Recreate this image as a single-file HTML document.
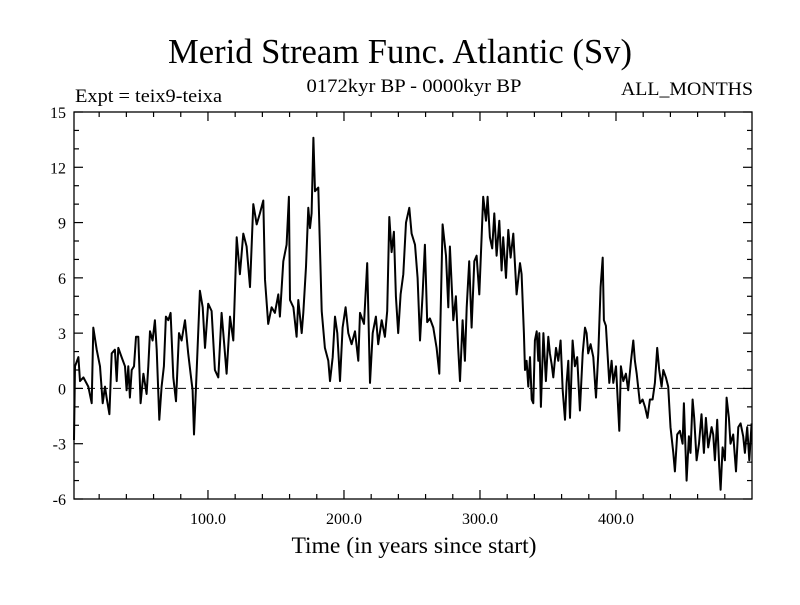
<!DOCTYPE html>
<html><head><meta charset="utf-8"><style>
body{margin:0;background:#fff}
svg text{font-family:"Liberation Serif",serif;fill:#000}
</style></head><body>
<svg id="chart" width="800" height="600" viewBox="0 0 800 600">
<text x="400" y="63" font-size="35" text-anchor="middle" textLength="464" lengthAdjust="spacingAndGlyphs">Merid Stream Func. Atlantic (Sv)</text>
<text x="75" y="102" font-size="19" textLength="147" lengthAdjust="spacingAndGlyphs">Expt = teix9-teixa</text>
<text x="414" y="92" font-size="19" text-anchor="middle" textLength="215" lengthAdjust="spacingAndGlyphs">0172kyr BP - 0000kyr BP</text>
<text x="753" y="95" font-size="19" text-anchor="end" textLength="132" lengthAdjust="spacingAndGlyphs">ALL_MONTHS</text>
<text x="414" y="553" font-size="23" text-anchor="middle" textLength="245" lengthAdjust="spacingAndGlyphs">Time (in years since start)</text>
<g id="axes"></g>
<line id="zero" stroke="#000" stroke-width="1" stroke-dasharray="8,5"></line>
<path id="series" fill="none" stroke="#000" stroke-width="2" stroke-linejoin="round"></path>
<rect x="74" y="112" width="678" height="387" fill="none" stroke="#000" stroke-width="1.3"></rect>
</svg>
<script>
const years=[1.5,2.2,4.7,5.9,8.4,12.0,14.5,15.7,18.2,20.6,22.6,24.3,25.5,27.5,29.2,31.6,32.9,34.1,36.5,39.0,40.2,41.4,42.6,43.9,45.6,47.1,48.8,50.5,52.5,54.9,56.1,57.4,59.3,61.0,62.3,64.2,65.9,67.6,69.1,70.8,72.5,74.5,76.5,78.7,80.6,83.1,85.5,87.2,88.7,89.7,91.7,94.1,96.1,97.8,100.2,102.7,105.1,107.6,110.0,111.3,113.7,116.2,118.6,121.1,123.5,126.0,128.4,130.9,133.3,135.8,138.2,140.7,141.9,144.3,146.8,149.2,151.7,152.9,155.4,157.8,159.5,
160.3,162.8,165.2,166.4,168.9,170.1,172.1,173.8,175.0,176.2,177.5,178.7,181.1,183.6,186.0,188.5,189.7,191.7,193.4,195.1,197.1,199.0,201.2,203.2,205.6,208.1,210.5,211.8,214.7,217.1,219.1,221.1,223.5,225.2,227.7,230.1,231.8,233.3,235.0,236.7,238.2,239.9,241.6,243.6,245.6,248.0,249.7,252.2,254.1,255.9,257.8,259.5,261.2,263.2,265.7,268.1,270.1,272.5,275.0,276.7,277.9,280.4,282.3,284.0,285.3,287.2,288.9,290.2,292.1,293.8,295.8,297.5,299.5,301.2,302.4,304.4,305.6,307.3,309.0,310.5,312.2,314.2,315.9,317.1,319.1,320.8,322.5,324.5,326.9,
329.4,330.6,332.3,333.1,334.3,335.5,336.8,338.0,339.2,340.4,341.7,342.9,343.6,344.8,346.6,348.5,350.2,351.4,352.7,353.9,355.9,357.6,359.3,360.8,362.5,363.7,364.9,366.2,368.1,369.8,371.5,373.5,375.5,377.2,378.4,379.6,381.3,383.3,385.3,387.0,388.7,390.2,391.1,392.6,393.6,395.1,396.8,398.0,400.0,401.2,402.4,403.6,405.4,407.3,409.0,411.0,412.7,413.9,415.2,417.6,419.6,421.3,423.2,424.9,426.9,428.6,430.3,431.8,433.5,434.8,436.7,438.4,440.1,442.1,443.3,445.0,447.0,449.0,449.9,451.9,453.6,454.8,456.3,457.5,459.3,461.0,462.9,464.6,466.1,467.8,470.3,471.5,472.7,474.4,475.9,476.9,478.4,480.1,481.3,483.0,484.2,486.2,488.2,489.9,491.6,493.5,494.8,496.5,498.0,499.7];
const values=[-2.8,1.2,1.7,0.4,0.6,0.1,-0.8,3.3,2.1,1.2,-0.8,0.1,-0.5,-1.4,1.9,2.1,0.4,2.2,1.7,1.2,-0.1,1.2,-0.5,1.0,1.2,2.8,2.8,-0.8,0.8,-0.3,1.2,3.1,2.6,3.7,2.1,-1.7,0.1,1.2,3.9,3.7,4.1,0.6,-0.7,3.0,2.6,3.7,1.9,0.8,-0.1,-2.5,1.0,5.3,4.4,2.2,4.6,4.2,1.0,0.6,4.1,3.0,0.8,3.9,2.6,8.2,6.2,8.4,7.7,5.5,10.0,8.9,9.5,10.2,5.9,3.5,4.4,4.1,5.1,3.9,6.9,7.8,10.4,
4.8,4.4,2.8,4.8,3.0,4.1,6.6,9.8,8.7,9.5,13.6,10.7,10.9,4.2,2.2,1.5,0.4,1.7,3.9,3.0,0.4,3.3,4.4,3.0,2.4,3.1,1.5,4.1,3.5,6.8,0.3,3.0,3.9,2.4,3.7,2.8,4.2,9.3,7.4,8.5,5.0,3.0,5.1,6.2,9.0,9.8,8.4,7.8,6.0,2.6,5.1,7.8,3.6,3.8,3.3,2.2,0.8,8.9,7.2,4.4,7.7,3.7,5.0,2.2,0.4,3.7,1.5,4.4,6.9,3.3,6.9,7.2,5.1,8.2,10.4,9.1,10.4,8.2,7.6,9.5,7.2,9.1,6.4,8.2,6.0,8.6,7.1,8.4,5.1,
6.8,6.2,3.0,1.0,1.5,0.1,1.7,-0.6,-0.8,2.6,3.1,1.5,3.0,-1.0,3.0,0.4,2.8,1.9,1.3,0.6,2.2,1.5,2.6,-0.1,-1.7,0.3,1.5,-1.6,2.6,1.2,1.7,-1.2,1.9,3.3,3.0,1.9,2.4,1.7,-0.5,1.9,5.5,7.1,3.7,3.4,2.1,0.3,1.5,0.3,1.2,-0.5,-2.3,1.2,0.4,0.8,-0.1,1.5,2.6,1.5,0.8,-0.8,-0.6,-1.0,-1.6,-0.6,-0.6,0.3,2.2,1.0,0.1,1.0,0.6,0.1,-2.1,-3.5,-4.5,-2.5,-2.3,-3.0,-0.8,-5.0,-2.6,-3.5,-0.6,-1.6,-3.9,-3.0,-1.4,-3.5,-1.6,-3.2,-2.1,-2.5,-3.9,-1.7,-4.2,-5.5,-3.2,-3.9,-0.5,-1.6,-3.0,-2.5,-4.5,-2.1,-1.9,-2.6,-3.5,-2.1,-3.9,-1.9];
const yTicks=[-6,-3,0,3,6,9,12,15];
const xTicks=[100,200,300,400];
const xMin=1.5,xMax=500,yMin=-6,yMax=15;
const L=74,R=752,T=112,B=499;
function sx(v){return L+(v-xMin)/(xMax-xMin)*(R-L);}
function sy(v){return B-(v-yMin)/(yMax-yMin)*(B-T);}
const NS='http://www.w3.org/2000/svg';
const axes=document.getElementById('axes');
function ln(x1,y1,x2,y2){const l=document.createElementNS(NS,'line');l.setAttribute('x1',x1);l.setAttribute('y1',y1);l.setAttribute('x2',x2);l.setAttribute('y2',y2);l.setAttribute('stroke','#000');l.setAttribute('stroke-width','1.2');axes.appendChild(l);return l;}
for(let v=yMin;v<=yMax;v++){const y=sy(v);const len=yTicks.includes(v)?9:5;
 const a=ln(L,y,L+len,y);
 
 
 const b=ln(R-len,y,R,y);
 
 }
yTicks.forEach(v=>{const t=document.createElementNS(NS,'text');t.setAttribute('x',L-8);t.setAttribute('y',sy(v)+6);t.setAttribute('font-size','16');t.setAttribute('text-anchor','end');t.textContent=v;
 
 
 axes.appendChild(t);});
for(let v=20;v<=480;v+=20){const x=sx(v);const len=xTicks.includes(v)?9:5;
 const a=ln(x,B,x,B-len);
 
 
 const b=ln(x,T,x,T+len);
 
 }
xTicks.forEach(v=>{const t=document.createElementNS(NS,'text');t.setAttribute('x',sx(v));t.setAttribute('y',B+25);t.setAttribute('font-size','16');t.setAttribute('text-anchor','middle');t.textContent=v.toFixed(1);
 
 
 axes.appendChild(t);});
const z=document.getElementById('zero');
z.setAttribute('x1',L);z.setAttribute('x2',R);z.setAttribute('y1',sy(0));z.setAttribute('y2',sy(0));
let d='';years.forEach((yr,i)=>{d+=(i?'L':'M')+sx(yr).toFixed(1)+','+sy(values[i]).toFixed(1);});
document.getElementById('series').setAttribute('d',d);
</script>
</body></html>
